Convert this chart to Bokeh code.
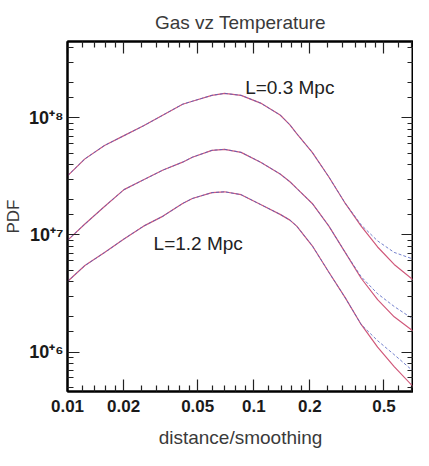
from bokeh.plotting import figure
from bokeh.models import (LogAxis, FixedTicker, Range1d, CustomJSTickFormatter, Label)
from bokeh.embed import file_html
from bokeh.resources import INLINE

# ---- data ----
dist = [0.010, 0.0124, 0.0158, 0.0201, 0.0256, 0.0326, 0.0415, 0.0468, 0.0596,
        0.0697, 0.0855, 0.1088, 0.1385, 0.1563, 0.170, 0.206, 0.253, 0.310,
        0.377, 0.462, 0.567, 0.722]

top_red = [3.2e7, 4.47e7, 5.82e7, 7.06e7, 8.57e7, 1.06e8, 1.31e8, 1.39e8, 1.56e8,
           1.62e8, 1.56e8, 1.34e8, 1.06e8, 8.73e7, 7.35e7, 5.08e7, 3.13e7, 1.86e7,
           1.19e7, 7.9e6, 5.6e6, 4.1e6]
top_blue = [3.2e7, 4.47e7, 5.82e7, 7.06e7, 8.57e7, 1.06e8, 1.31e8, 1.39e8, 1.56e8,
            1.62e8, 1.56e8, 1.34e8, 1.06e8, 8.73e7, 7.35e7, 5.08e7, 3.13e7, 1.86e7,
            1.22e7, 8.9e6, 7.1e6, 6.2e6]

mid_red = [9.0e6, 1.24e7, 1.75e7, 2.44e7, 2.96e7, 3.59e7, 4.19e7, 4.62e7, 5.29e7,
           5.39e7, 5.08e7, 4.19e7, 3.32e7, 2.85e7, 2.5e7, 1.86e7, 1.19e7, 7.07e6,
           4.27e6, 2.8e6, 2.0e6, 1.5e6]
mid_blue = [9.0e6, 1.24e7, 1.75e7, 2.44e7, 2.96e7, 3.59e7, 4.19e7, 4.62e7, 5.29e7,
            5.39e7, 5.08e7, 4.19e7, 3.32e7, 2.85e7, 2.5e7, 1.86e7, 1.19e7, 7.07e6,
            4.4e6, 3.15e6, 2.45e6, 1.9e6]

bot_red = [4.0e6, 5.48e6, 7.07e6, 9.25e6, 1.19e7, 1.45e7, 1.86e7, 2.05e7, 2.30e7,
           2.34e7, 2.21e7, 1.82e7, 1.5e7, 1.34e7, 1.19e7, 8.09e6, 4.8e6, 2.9e6,
           1.72e6, 1.1e6, 7.5e5, 5.0e5]
bot_blue = [4.0e6, 5.48e6, 7.07e6, 9.25e6, 1.19e7, 1.45e7, 1.86e7, 2.05e7, 2.30e7,
            2.34e7, 2.21e7, 1.82e7, 1.5e7, 1.34e7, 1.19e7, 8.09e6, 4.8e6, 2.9e6,
            1.72e6, 1.25e6, 9.5e5, 6.8e5]

x_major = [0.01, 0.02, 0.05, 0.1, 0.2, 0.5]
x_minor = [0.012, 0.014, 0.016, 0.018, 0.025, 0.03, 0.035, 0.04, 0.045,
           0.06, 0.07, 0.08, 0.09, 0.12, 0.14, 0.16, 0.18,
           0.25, 0.3, 0.35, 0.4, 0.45, 0.6, 0.7]
y_major = [1e6, 1e7, 1e8]
y_minor_mult = [1.5, 2, 3, 4, 5, 6, 7, 8, 9]
y_minor = [m * 10.0 ** k for k in (5, 6, 7, 8) for m in y_minor_mult]

title_text = "Gas vz Temperature"
x_label = "distance/smoothing"
y_label = "PDF"
label_top = "L=0.3 Mpc"
label_bot = "L=1.2 Mpc"

FONT = "Liberation Sans"

p = figure(width=413, height=450, x_axis_type="log", y_axis_type="log",
           x_range=Range1d(0.01, 0.72), y_range=Range1d(4.6e5, 4.5e8),
           output_backend="svg", toolbar_location=None,
           min_border_left=62, min_border_right=0, min_border_top=0,
           min_border_bottom=0)

p.title.text = title_text
p.title.align = "center"
p.title.text_font = FONT
p.title.text_font_size = "19px"
p.title.text_font_style = "normal"
p.title.text_color = "#3a3a3a"
p.title.standoff = 18

p.grid.visible = False
p.background_fill_color = "white"
p.border_fill_color = "white"
p.outline_line_color = "black"
p.outline_line_width = 2

xt = FixedTicker(ticks=x_major, minor_ticks=x_minor)
yt = FixedTicker(ticks=y_major, minor_ticks=y_minor)
xfmt = CustomJSTickFormatter(code="return String(Math.round(tick*1000)/1000);")
yfmt = CustomJSTickFormatter(code="""
const sup = {'0':'\u2070','1':'\u00b9','2':'\u00b2','3':'\u00b3','4':'\u2074',
             '5':'\u2075','6':'\u2076','7':'\u2077','8':'\u2078','9':'\u2079'};
const e = Math.round(Math.log10(tick));
return '10\u207a' + String(e).split('').map(c => sup[c]).join('');
""")

def style(ax):
    ax.axis_line_color = "black"
    ax.axis_line_width = 2
    ax.major_tick_in = 12
    ax.major_tick_out = 0
    ax.minor_tick_in = 6
    ax.minor_tick_out = 0
    ax.major_tick_line_width = 1.2
    ax.minor_tick_line_width = 1.2
    ax.major_tick_line_color = "#222222"
    ax.minor_tick_line_color = "#222222"

xa = p.xaxis[0]
xa.ticker = xt
xa.formatter = xfmt
style(xa)
xa.major_label_text_font = FONT
xa.major_label_text_font_style = "bold"
xa.major_label_text_font_size = "17px"
xa.major_label_text_color = "#1a1a1a"
xa.major_label_standoff = 8
xa.axis_label = x_label
xa.axis_label_text_font = FONT
xa.axis_label_text_font_style = "normal"
xa.axis_label_text_font_size = "19px"
xa.axis_label_text_color = "#3a3a3a"
xa.axis_label_standoff = 12

ya = p.yaxis[0]
ya.ticker = yt
ya.formatter = yfmt
style(ya)
ya.major_label_text_font = FONT
ya.major_label_text_font_style = "bold"
ya.major_label_text_font_size = "18px"
ya.major_label_text_color = "#1a1a1a"
ya.major_label_standoff = 4
ya.axis_label = y_label
ya.axis_label_text_font = FONT
ya.axis_label_text_font_style = "normal"
ya.axis_label_text_font_size = "17px"
ya.axis_label_text_color = "#3a3a3a"
ya.axis_label_standoff = 3

top_ax = LogAxis(ticker=xt, formatter=xfmt)
style(top_ax)
top_ax.major_label_text_font_size = "0px"
top_ax.major_label_standoff = 0
p.add_layout(top_ax, "above")

right_ax = LogAxis(ticker=yt, formatter=yfmt)
style(right_ax)
right_ax.major_label_text_font_size = "0px"
right_ax.major_label_standoff = 0
p.add_layout(right_ax, "right")

RED = "#d0587a"
BLUE = "#5060c0"
for red, blue in ((top_red, top_blue), (mid_red, mid_blue), (bot_red, bot_blue)):
    p.line(dist, red, line_color=RED, line_width=1.2)
    p.line(dist, blue, line_color=BLUE, line_width=1, line_dash="3 2", line_alpha=0.8)

p.add_layout(Label(x=0.156, y=1.82e8, text=label_top, text_font=FONT,
                   text_font_size="19px", text_color="#222222",
                   text_align="center", text_baseline="middle"))
p.add_layout(Label(x=0.0503, y=8.4e6, text=label_bot, text_font=FONT,
                   text_font_size="19px", text_color="#222222",
                   text_align="center", text_baseline="middle"))

open("out.html", "w").write(file_html(p, INLINE))
